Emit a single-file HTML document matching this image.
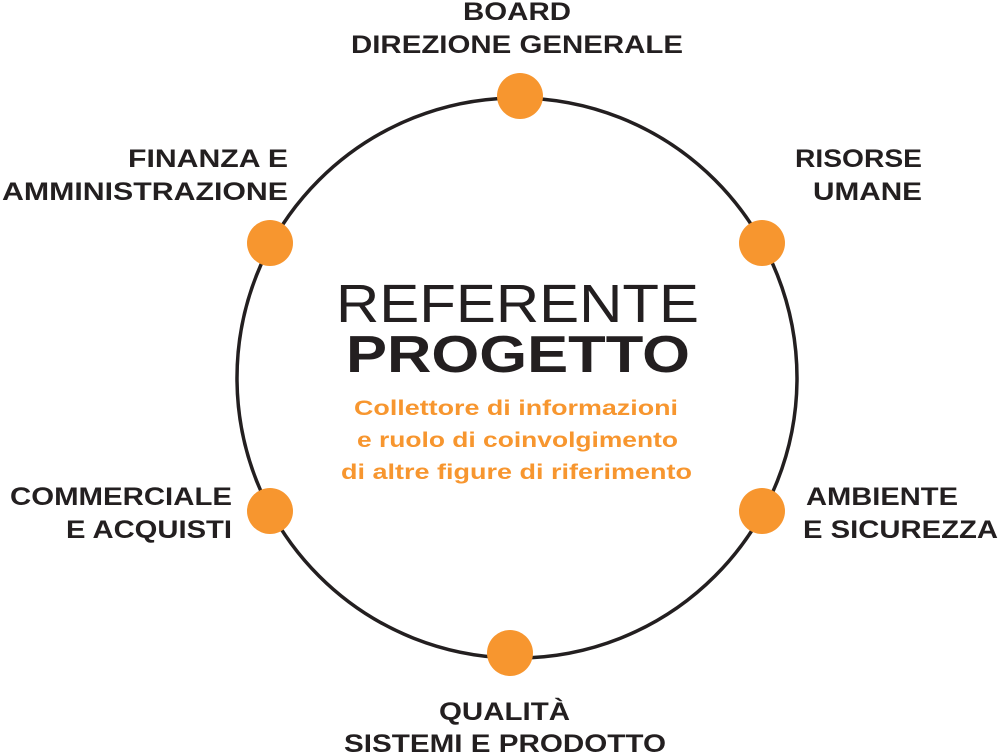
<!DOCTYPE html>
<html><head><meta charset="utf-8"><style>
html,body{margin:0;padding:0;background:#fff;width:1000px;height:754px;overflow:hidden}
svg text{font-family:"Liberation Sans",sans-serif}
.l{font-size:25px;font-weight:bold;fill:#231f20}
.o{font-size:21px;font-weight:bold;fill:#f7962f}
</style></head><body>
<svg width="1000" height="754" viewBox="0 0 1000 754" xmlns="http://www.w3.org/2000/svg">
<circle cx="517" cy="378" r="280" fill="none" stroke="#231f20" stroke-width="3.5"/>
<g fill="#f7962f">
<circle cx="520" cy="96" r="23"/>
<circle cx="762" cy="243" r="23"/>
<circle cx="762" cy="511" r="23"/>
<circle cx="510" cy="653" r="23"/>
<circle cx="270" cy="511" r="23"/>
<circle cx="270" cy="243" r="23"/>
</g>
<text class="l" x="463" y="20" textLength="108" lengthAdjust="spacingAndGlyphs">BOARD</text>
<text class="l" x="351" y="53" textLength="332" lengthAdjust="spacingAndGlyphs">DIREZIONE GENERALE</text>
<text class="l" x="128" y="167" textLength="160" lengthAdjust="spacingAndGlyphs">FINANZA E</text>
<text class="l" x="2" y="200" textLength="286" lengthAdjust="spacingAndGlyphs">AMMINISTRAZIONE</text>
<text class="l" x="795" y="167" textLength="127" lengthAdjust="spacingAndGlyphs">RISORSE</text>
<text class="l" x="813" y="200" textLength="109" lengthAdjust="spacingAndGlyphs">UMANE</text>
<text class="l" x="10" y="505" textLength="222" lengthAdjust="spacingAndGlyphs">COMMERCIALE</text>
<text class="l" x="66" y="538" textLength="166" lengthAdjust="spacingAndGlyphs">E ACQUISTI</text>
<text class="l" x="806" y="505" textLength="152" lengthAdjust="spacingAndGlyphs">AMBIENTE</text>
<text class="l" x="803" y="538" textLength="195" lengthAdjust="spacingAndGlyphs">E SICUREZZA</text>
<text class="l" x="439" y="720" textLength="131" lengthAdjust="spacingAndGlyphs">QUALITÀ</text>
<text class="l" x="344" y="752" textLength="322" lengthAdjust="spacingAndGlyphs">SISTEMI E PRODOTTO</text>
<text x="336" y="322" font-size="54" fill="#231f20" style="font-weight:normal" textLength="363" lengthAdjust="spacingAndGlyphs">REFERENTE</text>
<text x="346" y="372" font-size="52" font-weight="bold" fill="#231f20" textLength="344" lengthAdjust="spacingAndGlyphs">PROGETTO</text>
<text class="o" x="354" y="415" textLength="324" lengthAdjust="spacingAndGlyphs">Collettore di informazioni</text>
<text class="o" x="357" y="447" textLength="321" lengthAdjust="spacingAndGlyphs">e ruolo di coinvolgimento</text>
<text class="o" x="341" y="479" textLength="351" lengthAdjust="spacingAndGlyphs">di altre figure di riferimento</text>
</svg>
</body></html>
